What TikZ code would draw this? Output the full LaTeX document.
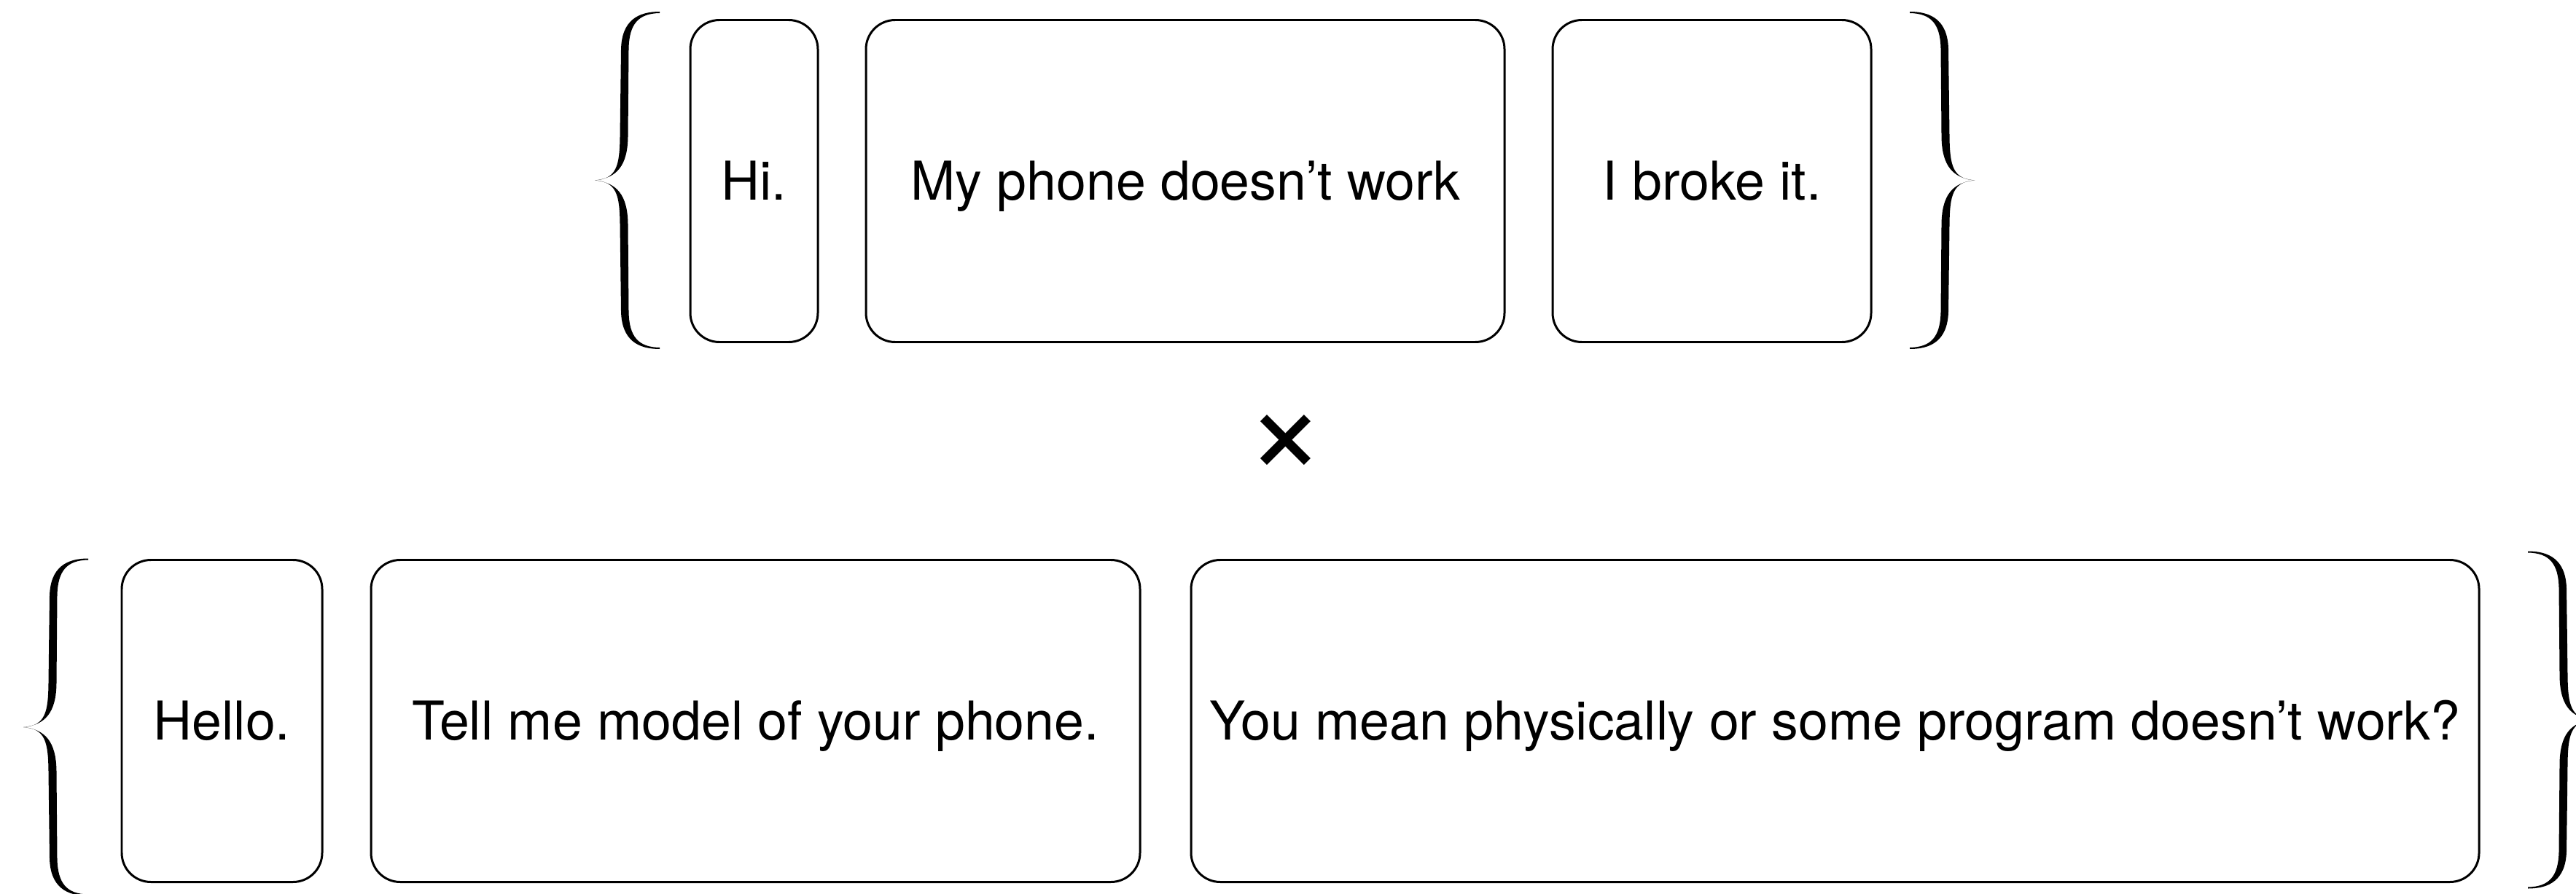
\documentclass[tikz,border=0pt]{standalone}
\usepackage{fontspec}
\setmainfont{TeX Gyre Heros}

\begin{document}
\begin{tikzpicture}[
    utt/.style={draw, rounded corners=0.4cm, line width=0.85pt, minimum height=4.42cm, inner sep=0pt,
      text height=15pt, text depth=0pt, font=\fontsize{20.9}{24}\selectfont},
    curly/.pic={
      \fill (0,0) .. controls (0.3,0.02) and (0.34,0.2) .. (0.345,0.6) -- (0.36,1.8)
        .. controls (0.37,2.2) and (0.6,2.315) .. (0.89,2.315) -- (0.89,2.295)
        .. controls (0.6,2.29) and (0.47,2.15) .. (0.465,1.8) -- (0.455,0.6)
        .. controls (0.45,0.2) and (0.3,0.03) .. (0,0) -- cycle;
      \fill[yscale=-1] (0,0) .. controls (0.3,0.02) and (0.34,0.2) .. (0.345,0.6) -- (0.36,1.8)
        .. controls (0.37,2.2) and (0.6,2.315) .. (0.89,2.315) -- (0.89,2.295)
        .. controls (0.6,2.29) and (0.47,2.15) .. (0.465,1.8) -- (0.455,0.6)
        .. controls (0.45,0.2) and (0.3,0.03) .. (0,0) -- cycle;
    }]
  \useasboundingbox (0,0) rectangle (35.34,12.26);
  % Top set
  \pic (topl) at (8.16,9.785) {curly};
  \node[utt, minimum width=1.75cm] (hi) at (10.345,9.775) {Hi.};
  \node[utt, minimum width=8.76cm] (phone) at (16.26,9.775) {My phone doesn’t work};
  \node[utt, minimum width=4.37cm] (broke) at (23.485,9.775) {I broke it.};
  \pic[xscale=-1] (topr) at (27.09,9.785) {curly};
  % Product sign
  \node[inner sep=0pt, font=\fontsize{54}{60}\selectfont] (cross) at (17.64,6.15) {×};
  % Bottom set
  \pic (botl) at (0.32,2.28) {curly};
  \node[utt, minimum width=2.75cm] (hello) at (3.045,2.365) {Hello.};
  \node[utt, minimum width=10.55cm] (model) at (10.365,2.365) {Tell me model of your phone.};
  \node[utt, minimum width=17.67cm] (mean) at (25.175,2.365) {You mean physically or some program doesn’t work?};
  \pic[xscale=-1] (botr) at (35.57,2.38) {curly};
\end{tikzpicture}
\end{document}
